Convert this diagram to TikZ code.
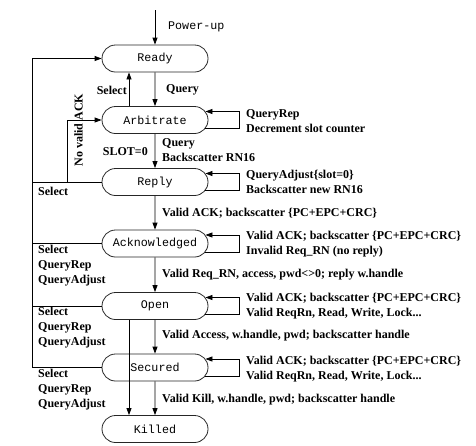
\documentclass[tikz,border=0pt]{standalone}
\usepackage{fontspec}
\setmainfont{Liberation Serif}
\newfontfamily\monofont{Liberation Mono}
\usetikzlibrary{arrows.meta,shapes.misc,calc}

% self transition on the right side of a state
\newcommand\selfloop[1]{%
  \draw[arr] ($(#1.east)+(-3,8.5)$) -- ($(#1.east)+(31,8.5)$)
    -- ($(#1.east)+(31,-8.5)$) -- ($(#1.east)+(-3,-8.5)$);}

\begin{document}
\begin{tikzpicture}[x=1pt,y=-1pt,
  state/.style={rounded rectangle, draw=black!85, line width=0.8pt,
    minimum width=106pt, minimum height=27pt, inner sep=0pt,
    font=\monofont\fontsize{11.7}{14}\selectfont},
  arr/.style={-{Triangle[length=7pt,width=5pt]}, line width=0.8pt},
  wire/.style={line width=0.8pt},
  lbl/.style={font=\bfseries\fontsize{12}{15}\selectfont, align=left, inner sep=0pt},
  mono/.style={font=\monofont\fontsize{11.7}{14}\selectfont, inner sep=0pt},
]
\useasboundingbox (0,0) rectangle (476,445);

% states
\node[state] (ready)   at (155,58.5) {Ready};
\node[state] (arb)     at (155,120)  {Arbitrate};
\node[state] (reply)   at (155,182)  {Reply};
\node[state] (ack)     at (155,243.5){Acknowledged};
\node[state] (open)    at (155,306)  {Open};
\node[state] (secured) at (155,367.5){Secured};
\node[state] (killed)  at (155,429)  {Killed};

% power-up entry
\coordinate (pwr) at (155,10);
\draw[arr] (pwr) -- (ready.north);
\node[mono, anchor=west] (pwrlbl) at (168,27) {Power-up};

% main downward transitions
\draw[arr] (ready) -- (arb);
\draw[arr] (arb) -- (reply);
\draw[arr] (reply) -- (ack);
\draw[arr] (ack) -- (open);
\draw[arr] (open) -- (secured);
\draw[arr] (secured) -- (killed);

% Select back to Ready, and Open straight to Killed
\draw[arr] ($(arb.north)+(-26,0)$) -- ($(ready.south)+(-26,0)$);
\draw[arr] ($(open.south)+(-26,0)$) -- ($(killed.north)+(-26,0)$);

% self loops
\selfloop{arb}
\selfloop{reply}
\selfloop{ack}
\selfloop{open}
\selfloop{secured}

% return bus on the left
\coordinate (lt) at (32,58.5);
\coordinate (lb) at (32,367.5);
\draw[wire] (secured.west) -- (lb) -- (lt);
\draw[arr] (lt) -- (ready.west);
\draw[wire] (reply.west) -- (reply.west -| lb);
\draw[wire] (ack.west) -- (ack.west -| lb);
\draw[wire] (open.west) -- (open.west -| lb);

% no valid ACK back to Arbitrate
\coordinate (nv) at (67,182);
\draw[arr] (nv) |- (arb.west);
\node[lbl, rotate=90] (nvlbl) at (78.5,130) {No valid ACK};

% transition labels
\node[lbl, anchor=west] (l1) at (166,90) {Query};
\node[lbl, anchor=east] (l2) at (127,90) {Select};
\node[lbl, anchor=west] (l3) at (162,150.5) {Query\\Backscatter RN16};
\node[lbl, anchor=east] (l4) at (148,152) {SLOT=0};
\node[lbl, anchor=west] (l5) at (162,213) {Valid ACK; backscatter \{PC+EPC+CRC\}};
\node[lbl, anchor=west] (l6) at (162,275) {Valid Req\_RN, access, pwd<>0; reply w.handle};
\node[lbl, anchor=west] (l7) at (162,336) {Valid Access, w.handle, pwd; backscatter handle};
\node[lbl, anchor=west] (l8) at (162,400) {Valid Kill, w.handle, pwd; backscatter handle};

% loop labels
\node[lbl, anchor=west] (s1) at (246,121) {QueryRep\\Decrement slot counter};
\node[lbl, anchor=west] (s2) at (246,182) {QueryAdjust\{slot=0\}\\Backscatter new RN16};
\node[lbl, anchor=west] (s3) at (246,244.5) {Valid ACK; backscatter \{PC+EPC+CRC\}\\Invalid Req\_RN (no reply)};
\node[lbl, anchor=west] (s4) at (246,306.5) {Valid ACK; backscatter \{PC+EPC+CRC\}\\Valid ReqRn, Read, Write, Lock...};
\node[lbl, anchor=west] (s5) at (246,369) {Valid ACK; backscatter \{PC+EPC+CRC\}\\Valid ReqRn, Read, Write, Lock...};

% labels on the return bus
\node[lbl, anchor=west] (b1) at (38,191) {Select};
\node[lbl, anchor=west] (b2) at (38,266) {Select\\QueryRep\\QueryAdjust};
\node[lbl, anchor=west] (b3) at (38,327.7) {Select\\QueryRep\\QueryAdjust};
\node[lbl, anchor=west] (b4) at (38,390) {Select\\QueryRep\\QueryAdjust};
\end{tikzpicture}
\end{document}
